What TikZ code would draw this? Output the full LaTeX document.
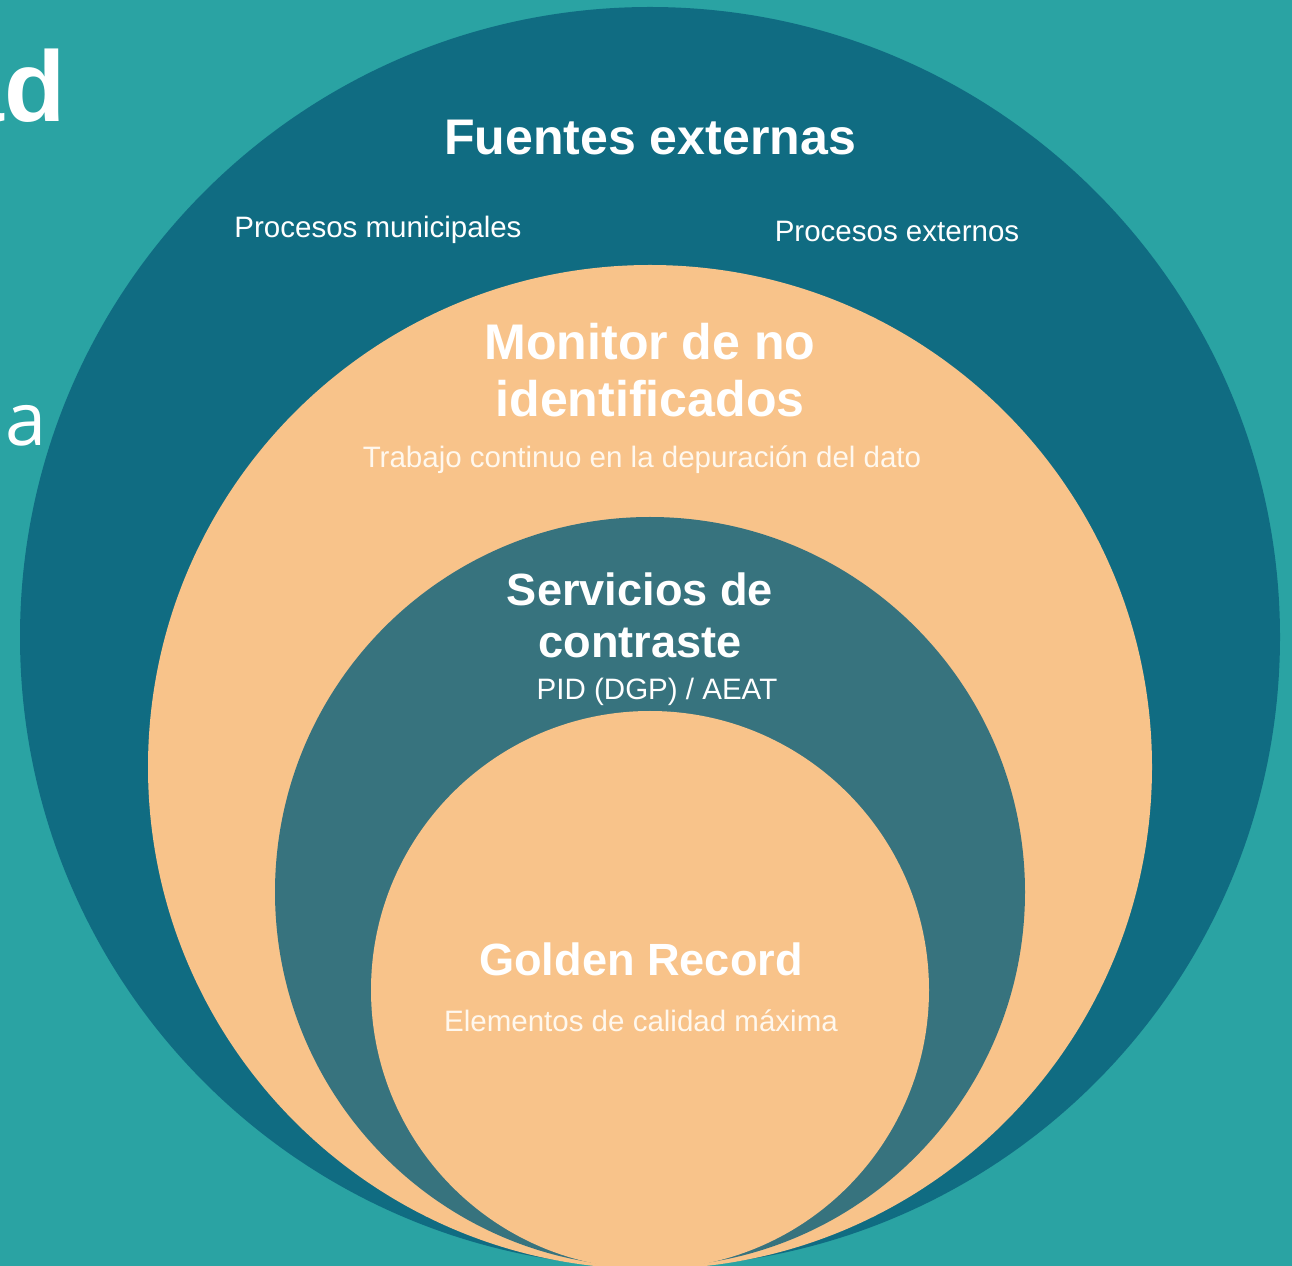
\documentclass[tikz,border=0pt]{standalone}
\usepackage{fontspec}
\setmainfont{Liberation Sans}
\newfontfamily\lightfont{Open Sans}
\definecolor{bgteal}{HTML}{2AA3A3}
\definecolor{outerblue}{HTML}{106C82}
\definecolor{peach}{HTML}{F8C38A}
\definecolor{slate}{HTML}{37737E}
\definecolor{cream}{HTML}{FFF8EE}
\tikzset{
  ring/.style={circle, inner sep=0pt, draw=none},
  bigtitle/.style={text=white, font=\bfseries\fontsize{28.5}{32.3}\selectfont, anchor=base, inner sep=0pt},
  midtitle/.style={text=white, font=\bfseries\fontsize{25.7}{29.5}\selectfont, anchor=base, inner sep=0pt},
  small/.style={text=white, font=\fontsize{16.8}{19}\selectfont, anchor=base, inner sep=0pt},
}
\begin{document}
\begin{tikzpicture}[x=0.02cm, y=-0.02cm]
\useasboundingbox (0,0) rectangle (1292,1266);
\clip (0,0) rectangle (1292,1266);
\fill[bgteal] (0,0) rectangle (1292,1266);
% fragments of neighbouring text
\node[anchor=base east, inner sep=0pt, text=white, font=\bfseries\fontsize{57}{60}\selectfont] (frag1) at (66,122) {ad};
\node[anchor=base west, inner sep=0pt, text=white, font=\lightfont\fontsize{42}{46}\selectfont] (frag2) at (5,446) {a};
% rings
\node[ring, fill=outerblue, minimum size=1260*0.02cm] (outer) at (650,637) {};
\node[ring, fill=peach, minimum size=1004*0.02cm] (monitor) at (650,767) {};
\node[ring, fill=slate, minimum size=750*0.02cm] (servicios) at (650,892) {};
\node[ring, fill=peach, minimum size=558*0.02cm] (golden) at (650,990) {};
% texts
\node[bigtitle] (t1) at (650,155) {Fuentes externas};
\node[small] (t2) at (378,238) {Procesos municipales};
\node[small] (t3) at (897,242) {Procesos externos};
\node[bigtitle] (t4a) at (650,360) {Monitor de no};
\node[bigtitle] (t4b) at (650,417) {identificados};
\node[small, text=cream] (t5) at (642,468) {Trabajo continuo en la depuración del dato};
\node[midtitle] (t6a) at (640,606) {Servicios de};
\node[midtitle] (t6b) at (640,658) {contraste};
\node[small] (t7) at (657,700) {PID (DGP) / AEAT};
\node[midtitle] (t8) at (641,975) {Golden Record};
\node[small, text=cream] (t9) at (641,1031) {Elementos de calidad máxima};
\end{tikzpicture}
\end{document}
